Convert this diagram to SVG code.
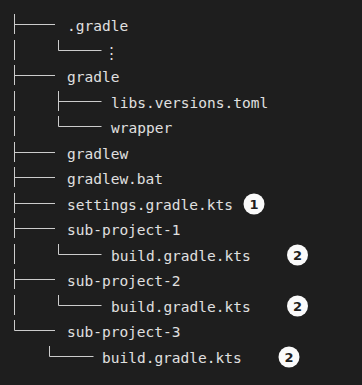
<svg xmlns="http://www.w3.org/2000/svg" width="362" height="385" viewBox="0 0 362 385">
  <style>
    .bg { fill: #1e1e1e; }
    .t { font-family: "DejaVu Sans Mono", "Liberation Mono", monospace; font-size: 14.5px; fill: #e0e0e0; }
    .tree { fill: none; stroke: #cccccc; stroke-width: 1; }
    .badge circle { fill: #fafafa; }
    .badge text { font-family: "DejaVu Sans", "Liberation Sans", sans-serif; font-size: 13px; font-weight: bold; fill: #1e1e1e; text-anchor: middle; }
  </style>
  <rect class="bg" x="0" y="0" width="362" height="385"/>
  <g id="connectors" class="tree">
    <path d="M14.5 14 V34 M14.5 24.5 H55"/>
    <path d="M14.5 40 V60"/>
    <path d="M14.5 65 V85 M14.5 75.5 H55"/>
    <path d="M14.5 91 V111"/>
    <path d="M14.5 116 V136"/>
    <path d="M14.5 142 V162 M14.5 152.5 H55"/>
    <path d="M14.5 167 V187 M14.5 177.5 H55"/>
    <path d="M14.5 193 V213 M14.5 203.5 H55"/>
    <path d="M14.5 218 V238 M14.5 228.5 H55"/>
    <path d="M14.5 244 V264"/>
    <path d="M14.5 269 V289 M14.5 279.5 H55"/>
    <path d="M14.5 295 V315"/>
    <path d="M14.5 320 V330.5 H55"/>
    <path d="M58.5 40 V50.5 H101.5"/>
    <path d="M58.5 91 V111 M58.5 101.5 H101.5"/>
    <path d="M58.5 116 V126.5 H101.5"/>
    <path d="M58.5 244 V254.5 H101.5"/>
    <path d="M58.5 295 V305.5 H101.5"/>
    <path d="M49.5 346 V356.5 H93.5"/>
  </g>
  <g id="node-dot-gradle"><text class="t" x="67" y="31">.gradle</text></g>
  <g id="node-ellipsis"><text class="t" x="104" y="58">⋮</text></g>
  <g id="node-gradle"><text class="t" x="67" y="82">gradle</text></g>
  <g id="node-libs-versions-toml"><text class="t" x="111" y="108">libs.versions.toml</text></g>
  <g id="node-wrapper"><text class="t" x="111" y="133">wrapper</text></g>
  <g id="node-gradlew"><text class="t" x="67" y="159">gradlew</text></g>
  <g id="node-gradlew-bat"><text class="t" x="67" y="184">gradlew.bat</text></g>
  <g id="node-settings">
    <text class="t" x="67" y="210">settings.gradle.kts</text>
    <g class="badge"><circle cx="254" cy="204" r="10.5"/><text x="254" y="208.5">1</text></g>
  </g>
  <g id="node-sub-project-1"><text class="t" x="67" y="235">sub-project-1</text></g>
  <g id="node-sp1-build">
    <text class="t" x="111" y="261">build.gradle.kts</text>
    <g class="badge"><circle cx="297.5" cy="255" r="10.5"/><text x="297.5" y="259.5">2</text></g>
  </g>
  <g id="node-sub-project-2"><text class="t" x="67" y="286">sub-project-2</text></g>
  <g id="node-sp2-build">
    <text class="t" x="111" y="312">build.gradle.kts</text>
    <g class="badge"><circle cx="297.5" cy="306" r="10.5"/><text x="297.5" y="310.5">2</text></g>
  </g>
  <g id="node-sub-project-3"><text class="t" x="67" y="337">sub-project-3</text></g>
  <g id="node-sp3-build">
    <text class="t" x="102" y="363">build.gradle.kts</text>
    <g class="badge"><circle cx="289" cy="357" r="10.5"/><text x="289" y="361.5">2</text></g>
  </g>
</svg>
